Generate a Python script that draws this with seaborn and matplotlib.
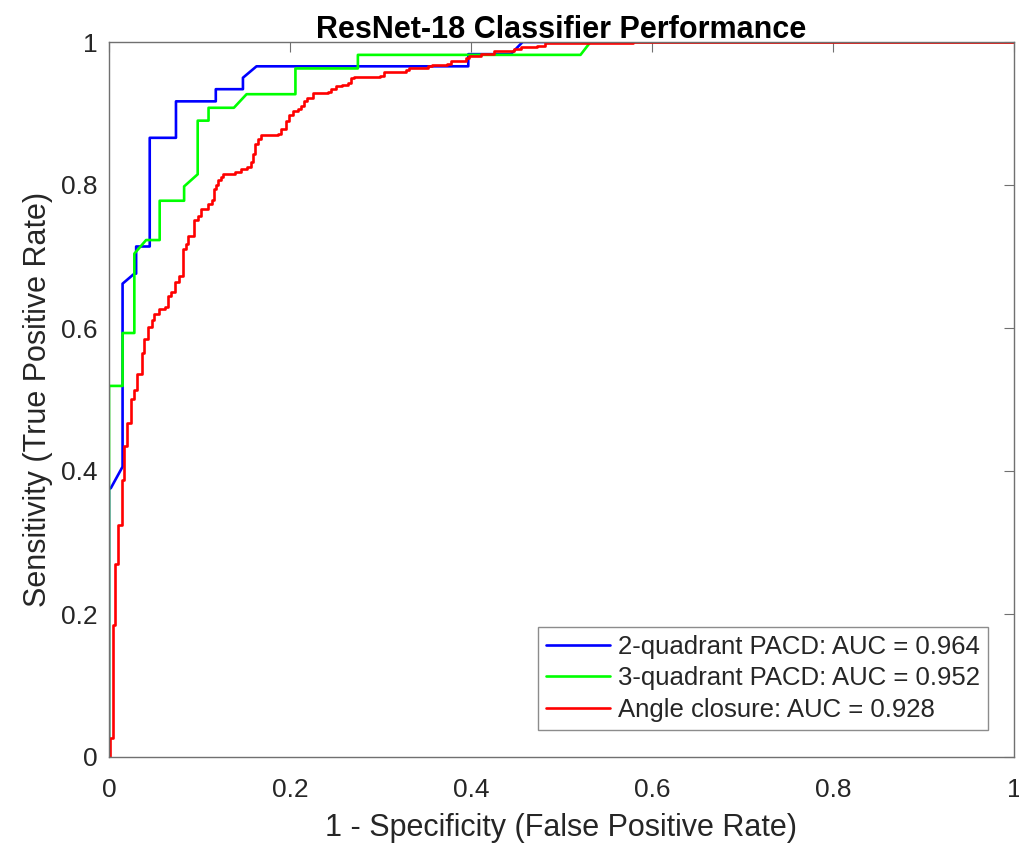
import numpy as np
import pandas as pd
import seaborn as sns
import matplotlib
matplotlib.use("Agg")
import matplotlib.pyplot as plt
from matplotlib.ticker import FuncFormatter

# ROC curve vertices
blue_fpr = [0, 0, 0.002, 0.015, 0.015, 0.028, 0.030, 0.030, 0.045, 0.045, 0.074, 0.074,
            0.118, 0.118, 0.148, 0.148, 0.163, 0.397, 0.397, 0.444, 0.457, 1.0]
blue_tpr = [0, 0.376, 0.376, 0.406, 0.662, 0.676, 0.676, 0.714, 0.714, 0.866, 0.866, 0.917,
            0.917, 0.934, 0.934, 0.950, 0.966, 0.966, 0.983, 0.983, 1.0, 1.0]

green_fpr = [0, 0, 0.015, 0.015, 0.028, 0.028, 0.041, 0.056, 0.056, 0.083, 0.083, 0.098,
             0.098, 0.110, 0.110, 0.138, 0.152, 0.206, 0.206, 0.275, 0.275, 0.521, 0.532, 1.0]
green_tpr = [0, 0.519, 0.519, 0.593, 0.593, 0.704, 0.723, 0.723, 0.778, 0.778, 0.798, 0.815,
             0.890, 0.890, 0.908, 0.908, 0.927, 0.927, 0.963, 0.963, 0.982, 0.982, 1.0, 1.0]

# red curve: each threshold moves right to fpr, then up to tpr
red_fpr = [0, 0.001, 0.0046, 0.007, 0.010, 0.014, 0.017, 0.020, 0.024, 0.028, 0.031, 0.036,
           0.039, 0.043, 0.047, 0.050, 0.055, 0.0615, 0.065, 0.069, 0.0725, 0.077, 0.0815,
           0.085, 0.087, 0.094, 0.098, 0.102, 0.109, 0.114, 0.116, 0.1185, 0.120, 0.124,
           0.126, 0.139, 0.146, 0.153, 0.157, 0.159, 0.161, 0.1645, 0.168, 0.1865, 0.190,
           0.196, 0.199, 0.203, 0.2086, 0.212, 0.216, 0.219, 0.225, 0.242, 0.245, 0.251,
           0.258, 0.264, 0.267, 0.271, 0.300, 0.304, 0.328, 0.332, 0.352, 0.357, 0.374,
           0.378, 0.394, 0.398, 0.411, 0.425, 0.447, 0.455, 0.473, 0.482, 0.579, 1.0]
red_tpr = [0, 0.027, 0.185, 0.270, 0.325, 0.387, 0.435, 0.467, 0.501, 0.513, 0.536, 0.565,
           0.584, 0.602, 0.611, 0.620, 0.626, 0.630, 0.645, 0.651, 0.665, 0.673, 0.711,
           0.718, 0.728, 0.751, 0.756, 0.767, 0.774, 0.779, 0.795, 0.800, 0.807, 0.811,
           0.816, 0.818, 0.822, 0.825, 0.832, 0.844, 0.858, 0.865, 0.870, 0.872, 0.879,
           0.889, 0.898, 0.903, 0.906, 0.910, 0.917, 0.921, 0.928, 0.930, 0.934, 0.938,
           0.940, 0.942, 0.949, 0.951, 0.952, 0.958, 0.961, 0.963, 0.966, 0.968, 0.969,
           0.974, 0.977, 0.980, 0.983, 0.988, 0.990, 0.993, 0.995, 0.998, 1.0, 1.0]

labels = ["2-quadrant PACD: AUC = 0.964",
          "3-quadrant PACD: AUC = 0.952",
          "Angle closure: AUC = 0.928"]
colors = ["#0000ff", "#00ff00", "#ff0000"]


def steps(xs, ys):
    # expand threshold points to horizontal-then-vertical vertices
    px, py = [xs[0]], [ys[0]]
    for x, y in zip(xs[1:], ys[1:]):
        px += [x, x]
        py += [py[-1], y]
    return px, py


rx, ry = steps(red_fpr, red_tpr)
df = pd.concat([
    pd.DataFrame({"fpr": blue_fpr, "tpr": blue_tpr, "curve": labels[0]}),
    pd.DataFrame({"fpr": green_fpr, "tpr": green_tpr, "curve": labels[1]}),
    pd.DataFrame({"fpr": rx, "tpr": ry, "curve": labels[2]}),
], ignore_index=True)

sns.set_style("white")
plt.rcParams["font.family"] = ["Liberation Sans", "DejaVu Sans"]
plt.rcParams["text.color"] = "#262626"
plt.rcParams["axes.labelcolor"] = "#262626"

fig = plt.figure(figsize=(10.2, 8.48), dpi=100)
ax = fig.add_axes([109 / 1020, 1 - 757 / 848, 905 / 1020, 715 / 848])
sns.lineplot(x="fpr", y="tpr", hue="curve", data=df, palette=colors,
             sort=False, estimator=None, linewidth=1.9, ax=ax)

ax.set_xlim(0, 1)
ax.set_ylim(0, 1)
ax.set_xticks(np.arange(0, 1.01, 0.2))
ax.set_yticks(np.arange(0, 1.01, 0.2))
fmt = FuncFormatter(lambda v, p: "%g" % round(v, 2))
ax.xaxis.set_major_formatter(fmt)
ax.yaxis.set_major_formatter(fmt)
ax.tick_params(direction="in", length=7, width=0.8, top=True, right=True,
               labelsize=19, colors="#262626")
ax.tick_params(axis="x", pad=15)
ax.tick_params(axis="y", pad=8)
ax.tick_params(color="#707070")
for s in ax.spines.values():
    s.set_color("#707070")
    s.set_linewidth(1.0)

ax.set_xlabel("1 - Specificity (False Positive Rate)", fontsize=22, labelpad=8)
ax.set_ylabel("Sensitivity (True Positive Rate)", fontsize=22, labelpad=6)
ax.set_title("ResNet-18 Classifier Performance", fontsize=22, fontweight="bold",
             color="black", pad=3)

handles, labs = ax.get_legend_handles_labels()
leg = ax.legend(handles, labs, loc="lower right", bbox_to_anchor=(0.971, 0.038),
                borderaxespad=0, fontsize=18.5, handlelength=2.5, handletextpad=0.3,
                labelspacing=0.3, borderpad=0.3, fancybox=False, frameon=True)
leg.get_frame().set_edgecolor("#707070")
leg.get_frame().set_linewidth(1.0)
for h in leg.get_lines():
    h.set_linewidth(1.9)

fig.savefig("out.png", dpi=100)
